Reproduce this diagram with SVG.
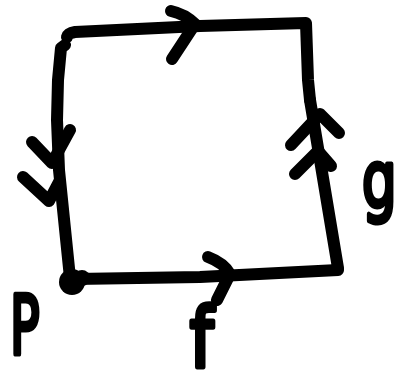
<svg xmlns="http://www.w3.org/2000/svg" width="400" height="389" viewBox="0 0 400 389">
<style>
.s{fill:none;stroke:#000;stroke-width:12;stroke-linecap:round;stroke-linejoin:round}
.t{fill:#000;stroke:#000;stroke-width:5;stroke-linejoin:round;font-family:"DejaVu Sans","Liberation Sans",sans-serif}
</style>
<rect width="400" height="389" fill="#fff"/>
<g id="connectors">
  <g id="edge-top">
    <path class="s" d="M67,37 Q68,33 75,32 L200,26 L306,23 L308,80 L310,100"/>
    <path class="s" d="M171,11 Q185,14 195,24 L172,59"/>
  </g>
  <g id="edge-left">
    <path class="s" d="M65,45 L61,48 L58,80 L57,120 L59,170 L70,278"/>
    <path class="s" d="M32,142 L52,163 L70,130"/>
    <path class="s" d="M23,177 L49,201 L59,182"/>
  </g>
  <g id="edge-right">
    <path class="s" d="M310,100 L320,160 L338,268 L334,270"/>
    <path class="s" d="M291,145 L320,114 L339,133"/>
    <path class="s" d="M295,174 L318,151 L331,166"/>
    <text class="t" x="362" y="207" font-size="78" transform="translate(362,207) scale(0.7,1) translate(-362,-207)">g</text>
  </g>
  <g id="edge-bottom">
    <path class="s" d="M75,279 L200,277 L338,270"/>
    <path class="s" d="M208,257 Q224,263 230,274 L217,300"/>
    <text class="t" x="190" y="366" font-size="74" transform="translate(190,366) scale(0.9,1.1) translate(-190,-366)">f</text>
  </g>
</g>
<g id="node-P">
  <circle cx="72" cy="282" r="13" fill="#000"/>
  <circle cx="82" cy="278" r="8" fill="#000"/>
  <text class="t" x="10" y="354" font-size="82" transform="translate(10,354) scale(0.6,1) translate(-10,-354)">P</text>
</g>
</svg>
